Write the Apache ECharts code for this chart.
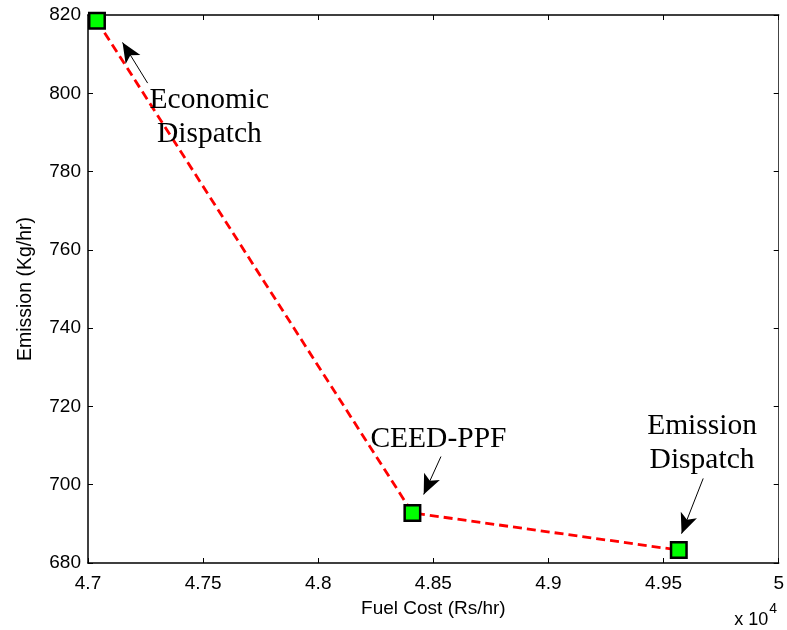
<!DOCTYPE html>
<html>
<head>
<meta charset="utf-8">
<title>Fuel Cost vs Emission</title>
<script src="https://cdn.jsdelivr.net/npm/echarts@6/dist/echarts.min.js"></script>
<style>
  html, body { margin: 0; padding: 0; background: #fff; }
  #chart { width: 787px; height: 630px; }
</style>
</head>
<body>
<div id="chart"></div>
<script>
// Pareto points: fuel cost (Rs/hr) and emission (Kg/hr)
const fuelCost = [47039, 48409, 49566];
const emission = [818.5, 692.8, 683.3];

// Axis tick values
const xTicks = [47000, 47500, 48000, 48500, 49000, 49500, 50000];
const yTicks = [680, 700, 720, 740, 760, 780, 800, 820];

// Annotation texts, their anchor (data units) and arrow from/to (data units)
const noteTexts = ['Economic\nDispatch', 'CEED-PPF', 'Emission\nDispatch'];
const noteAt = [[47527, 794.0], [48522, 711.6], [49667, 710.6]];
const arrowFrom = [[47259, 802.6], [48533, 707.2], [49672, 701.6]];
const arrowTo = [[47150, 813.0], [48458, 697.5], [49578, 687.5]];

const chart = echarts.init(document.getElementById('chart'));

const sans = 'Liberation Sans, Arial, sans-serif';
const serif = 'Liberation Serif, Times New Roman, serif';
const fmtX = v => String(+(v / 10000).toFixed(2));
const tickFont = { fontFamily: sans, fontSize: 19, color: '#000' };

const baseAxis = {
  type: 'value',
  axisLine: { show: true, onZero: false, lineStyle: { color: '#000', width: 1.5 } },
  axisTick: { show: true, inside: true, length: 5, lineStyle: { color: '#000', width: 1 } },
  splitLine: { show: false }
};

chart.setOption({
  animation: false,
  backgroundColor: '#fff',
  grid: { left: 88, right: 6, top: 15, bottom: 67, containLabel: false },
  xAxis: [
    Object.assign({}, baseAxis, {
      position: 'bottom',
      min: xTicks[0], max: xTicks[xTicks.length - 1], interval: 500,
      axisLabel: Object.assign({ formatter: fmtX, margin: 11 }, tickFont),
      name: 'Fuel Cost (Rs/hr)',
      nameLocation: 'middle', nameGap: 36,
      nameTextStyle: { fontFamily: sans, fontSize: 19, color: '#000' }
    }),
    Object.assign({}, baseAxis, {
      position: 'top',
      min: xTicks[0], max: xTicks[xTicks.length - 1], interval: 500,
      axisLabel: { show: false }
    })
  ],
  yAxis: [
    Object.assign({}, baseAxis, {
      position: 'left',
      min: yTicks[0], max: yTicks[yTicks.length - 1], interval: 20,
      axisLabel: Object.assign({ margin: 7 }, tickFont),
      name: 'Emission (Kg/hr)',
      nameLocation: 'middle', nameGap: 52, nameRotate: 90,
      nameTextStyle: { fontFamily: sans, fontSize: 19.5, color: '#000' }
    }),
    Object.assign({}, baseAxis, {
      position: 'right',
      min: yTicks[0], max: yTicks[yTicks.length - 1], interval: 20,
      axisLine: { show: true, lineStyle: { color: '#444', width: 1 } },
      axisLabel: { show: false }
    })
  ],
  series: [
    {
      name: 'Pareto',
      type: 'line',
      data: fuelCost.map((x, i) => [x, emission[i]]),
      lineStyle: { color: '#ff0000', width: 2.8, type: [9, 5] },
      symbol: 'rect',
      symbolSize: 15.5,
      itemStyle: { color: '#00ff00', borderColor: '#000', borderWidth: 2.5 },
      z: 3
    },
    {
      // carries the annotation arrows
      name: 'Arrows',
      type: 'line',
      data: [],
      markLine: {
        silent: true,
        symbol: ['none', 'arrow'],
        symbolSize: [13, 20],
        label: { show: false },
        lineStyle: { color: '#000', width: 1, type: 'solid' },
        data: arrowFrom.map((p, i) => [{ coord: p }, { coord: arrowTo[i] }])
      },
      z: 4
    }
  ]
});

// Annotation texts and the axis multiplier, placed through the chart's own scales
const notes = noteAt.map((p, i) => {
  const px = chart.convertToPixel({ gridIndex: 0 }, p);
  return {
    type: 'text',
    x: px[0], y: px[1], z: 10,
    style: {
      text: noteTexts[i], fill: '#000',
      font: '29.5px ' + serif, lineHeight: 34,
      align: 'center', verticalAlign: 'middle'
    }
  };
});
notes.push({
  type: 'text',
  right: 10, bottom: 1,
  style: {
    text: '{b|x 10}{s|4}',
    rich: {
      b: { fontFamily: sans, fontSize: 18, fill: '#000', verticalAlign: 'bottom', padding: [9, 0, 0, 0] },
      s: { fontFamily: sans, fontSize: 14, fill: '#000', verticalAlign: 'top', padding: [0, 0, 11, 1] }
    }
  }
});
chart.setOption({ graphic: notes });
</script>
</body>
</html>
